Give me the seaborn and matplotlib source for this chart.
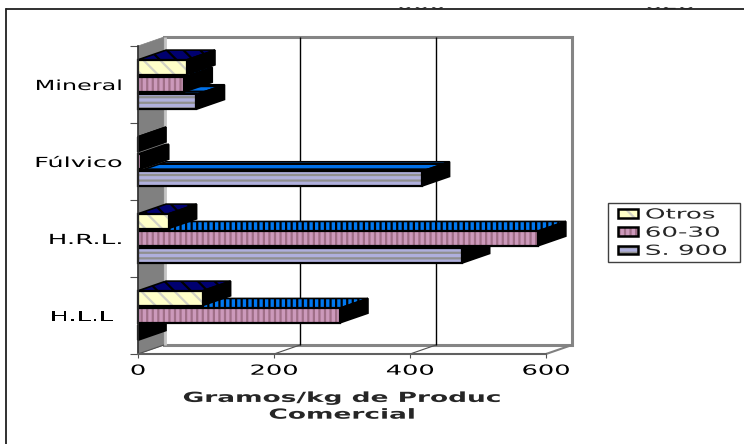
import matplotlib
matplotlib.use("Agg")
import matplotlib.pyplot as plt
import pandas as pd
import seaborn as sns
from matplotlib.lines import Line2D
from matplotlib.patches import Patch, Polygon, Rectangle
from matplotlib.patheffects import AbstractPathEffect
from matplotlib.transforms import Affine2D, IdentityTransform
from matplotlib.legend_handler import HandlerBase

categories = ["Mineral", "Fúlvico", "H.R.L.", "H.L.L"]
series_names = ["Otros", "60-30", "S. 900"]
otros = [72, 0, 45, 95]
s6030 = [68, 4, 588, 297]
s900 = [86, 417, 476, 0]
x_ticks = [0, 200, 400, 600]
x_title = "Gramos/kg de Produc\nComercial"

face = {"Otros": "#FFFFC8", "60-30": "#CC99BB", "S. 900": "#AFAFDC"}
stripe = {"Otros": "#D2D2C4", "60-30": "#A06F88", "S. 900": "#8F8F8F"}
hatch = {"Otros": "\\\\", "60-30": "|||", "S. 900": "---"}
top_face = {"Otros": "#000070", "60-30": "#0078F0", "S. 900": "#0070E8"}
top_hatch = {"Otros": "\\\\", "60-30": "|||", "S. 900": "---"}
label_stretch = {"Mineral": 1.72, "Fúlvico": 1.84, "H.R.L.": 1.88, "H.L.L": 1.84}
label_shift = {"Mineral": 0, "Fúlvico": 0, "H.R.L.": 0, "H.L.L": -9}

W, H, DPI = 744, 444, 100
DX, DY = 26, 9       # depth of the back plane
BX = 28              # depth of the bars

sns.set_style("white")
plt.rcParams["font.family"] = ["DejaVu Sans"]
plt.rcParams["hatch.linewidth"] = 1.6


class Stretch(AbstractPathEffect):
    """Widen glyphs horizontally about the anchor of the line."""
    def __init__(self, sx=1.8, anchor="center", shift=0):
        super().__init__()
        self.sx, self.anchor, self.shift = sx, anchor, shift

    def draw_path(self, renderer, gc, tpath, affine, rgbFace=None):
        ext = tpath.get_extents()
        a = {"left": ext.x0, "right": ext.x1, "center": (ext.x0 + ext.x1) / 2}[self.anchor]
        t = Affine2D().translate(-a, 0).scale(self.sx, 1).translate(a, 0)
        renderer.draw_path(gc, tpath, t + affine + Affine2D().translate(self.shift, 0), rgbFace)


fig = plt.figure(figsize=(W / DPI, H / DPI), dpi=DPI, facecolor="white")
ax = fig.add_axes([138 / W, (H - 354) / H, (546 - 138) / W, (354 - 46) / H])

df = pd.DataFrame({
    "cat": categories * 3,
    "serie": sum(([n] * len(categories) for n in series_names), []),
    "val": otros + s6030 + s900,
})
sns.barplot(data=df, y="cat", x="val", hue="serie", order=categories, hue_order=series_names,
            palette=face, saturation=1, width=0.675, gap=0.15, orient="h", ax=ax, legend=False)

ax.set_xlim(0, 600)
ax.set_ylim(len(categories) - 0.5, -0.5)
ax.set_facecolor("none")
ax.set_autoscale_on(False)


def px(x, y, depth=0):
    X, Y = ax.transData.transform((x, y))
    return X + depth, Y + depth * DY / DX


def poly(pts, z, **kw):
    p = Polygon(pts, closed=True, transform=IdentityTransform(), clip_on=False, zorder=z, **kw)
    ax.add_artist(p)
    return p


y0, y1 = ax.get_ylim()[1], ax.get_ylim()[0]
x0, x1 = ax.get_xlim()
# side wall, back plane, floor
poly([px(x0, y0), px(x0, y0, DX), px(x0, y1, DX), px(x0, y1)], 0.1, facecolor="#808080", edgecolor="#808080", lw=0.5)
poly([px(x0, y0, DX), px(x1, y0, DX), px(x1, y1, DX), px(x0, y1, DX)], 0.2, facecolor="white", edgecolor="#858585", lw=2.2)
poly([px(x0, y0, DX + 1), px(x0, y1, DX + 1)], 0.25, fill=False, edgecolor="#C4C4C4", lw=2)
poly([px(x1, y1), px(x1, y1, DX)], 0.3, fill=False, edgecolor="#808080", lw=1.5)
for t in x_ticks[:-1]:
    poly([px(t, y1), px(t, y1, DX)], 0.3, fill=False, edgecolor="#505050", lw=0.8)
for t in x_ticks[1:-1]:
    poly([px(t, y0, DX), px(t, y1, DX)], 0.4, fill=False, edgecolor="black", lw=1)

# bars with their depth
ncat, nser = len(categories), len(series_names)
for s, (name, cont) in enumerate(zip(series_names, ax.containers)):
    for c, bar in enumerate(cont):
        z = 2 + (c * 10) + (nser - 1 - s) * 3
        l, b, r, t = bar.get_x(), bar.get_y(), bar.get_x() + bar.get_width(), bar.get_y() + bar.get_height()
        d = BX
        poly([px(l, b), px(l, b, d), px(r, b, d), px(r, b)], z, facecolor=top_face[name],
             edgecolor="black", hatch=top_hatch[name], lw=1.2)
        poly([px(r, b), px(r, b, d), px(r, t, d), px(r, t)], z + 0.1, facecolor="black", edgecolor="black", lw=1.2)
        bar.set_edgecolor(stripe[name])
        bar.set_linewidth(0)
        bar.set_hatch(hatch[name])
        bar.set_zorder(z + 0.2)
        ax.add_artist(Rectangle((l, b), r - l, t - b, fill=False, edgecolor="black", lw=1.6,
                                zorder=z + 0.3, clip_on=False))

# axes
sns.despine(ax=ax, top=True, right=True)
for side, col, lw in [("left", "#303030", 1.2), ("bottom", "#606060", 1.5)]:
    ax.spines[side].set_color(col)
    ax.spines[side].set_linewidth(lw)
    ax.spines[side].set_zorder(60)
ax.set_xticks(x_ticks)
ax.set_xticklabels([str(t) for t in x_ticks], fontsize=10, color="black")
ax.set_yticks(range(ncat))
ax.set_yticklabels(categories, fontsize=10, color="black")
ax.set_yticks([i - 0.5 for i in range(ncat + 1)], minor=True)
ax.tick_params(axis="y", which="major", length=0, pad=11.5, left=False)
ax.tick_params(axis="y", which="minor", length=5.8, width=0.8, color="#505050", left=True)
ax.tick_params(axis="x", which="major", length=3, width=0.8, color="#505050", pad=4, bottom=True)
ax.set_xlabel(x_title, fontsize=10, fontweight="bold", labelpad=9.5, linespacing=1.25)
ax.set_ylabel("")
ax.grid(False)

for lab in ax.get_xticklabels():
    lab.set_path_effects([Stretch(1.85, "center")])
for lab, cat in zip(ax.get_yticklabels(), categories):
    lab.set_path_effects([Stretch(label_stretch[cat], "right", label_shift[cat])])
ax.xaxis.label.set_path_effects([Stretch(1.9, "center")])


class BoxHandler(HandlerBase):
    def create_artists(self, legend, orig, xdescent, ydescent, width, height, fontsize, trans):
        x = -xdescent + 4
        fill = Rectangle((x, -ydescent), width, height, facecolor=orig.get_facecolor(),
                         edgecolor=orig.get_edgecolor(), hatch=orig.get_hatch(), lw=0, transform=trans)
        box = Rectangle((x, -ydescent), width, height, fill=False, edgecolor="black", lw=1.8, transform=trans)
        return [fill, box]


handles = [Patch(facecolor=face[n], edgecolor=stripe[n], hatch=hatch[n]) for n in series_names]
leg = ax.legend(handles, series_names, handler_map={Patch: BoxHandler()},
                loc="lower left", bbox_to_anchor=(608 / W, (H - 262) / H, (740 - 608) / W, (262 - 202) / H),
                bbox_transform=fig.transFigure, mode="expand", borderaxespad=0, borderpad=0.3,
                labelspacing=0.3, handlelength=1.45, handleheight=0.6, handletextpad=0.6,
                fontsize=10, frameon=True, fancybox=False, edgecolor="#404040", framealpha=1)
leg.get_frame().set_linewidth(1)
leg.set_zorder(70)
for txt in leg.get_texts():
    txt.set_path_effects([Stretch(1.88, "left", 5)])

# the clipped text of the page above the chart, masked down to its lowest pixels
for label, cx in [("000", 421), ("828", 670)]:
    t = fig.text(cx / W, 1 - 9 / H, label, fontsize=10, ha="center", va="baseline", color="#404040", zorder=1)
    t.set_path_effects([Stretch(1.85, "center")])
fig.add_artist(Rectangle((0, 1 - 7.5 / H), 1, 7.5 / H, transform=fig.transFigure,
                         facecolor="white", edgecolor="none", zorder=2))
# chart frame
for pts in [((6, 9), (W + 5, 9)), ((6, 9), (6, H + 5))]:
    fig.add_artist(Line2D([p[0] / W for p in pts], [1 - p[1] / H for p in pts],
                          transform=fig.transFigure, color="#202020", lw=1.3, zorder=3))

fig.savefig("out.png", dpi=DPI)
